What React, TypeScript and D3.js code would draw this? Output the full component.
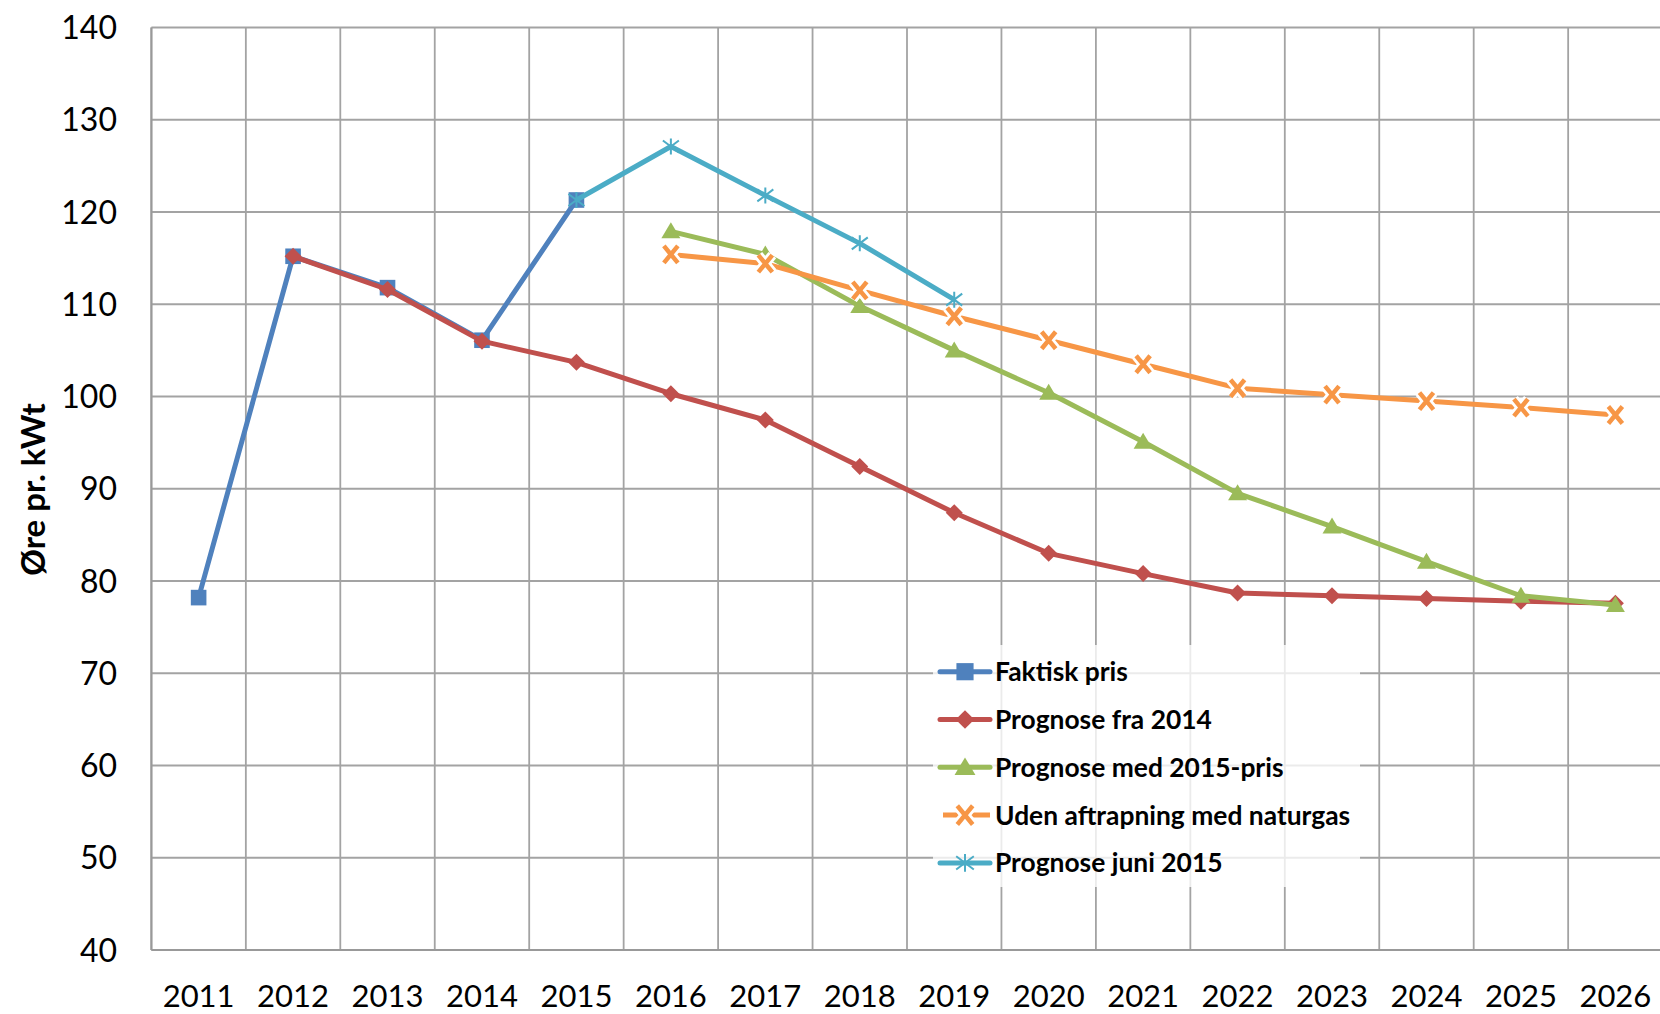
import React from "react";
import * as d3 from "d3";

const years = ["2011","2012","2013","2014","2015","2016","2017","2018","2019","2020","2021","2022","2023","2024","2025","2026"];
const yTicks = [40, 50, 60, 70, 80, 90, 100, 110, 120, 130, 140];

const faktiskPris = [78.2, 115.2, 111.8, 106.1, 121.3, null, null, null, null, null, null, null, null, null, null, null];
const prognoseFra2014 = [null, 115.2, 111.6, 106.0, 103.7, 100.3, 97.45, 92.4, 87.4, 83.0, 80.8, 78.7, 78.4, 78.1, 77.8, 77.6];
const prognoseMed2015Pris = [null, null, null, null, null, 117.9, 115.4, 109.8, 105.0, 100.4, 95.1, 89.5, 85.9, 82.1, 78.4, 77.4];
const udenAftrapning = [null, null, null, null, null, 115.4, 114.4, 111.5, 108.7, 106.1, 103.5, 100.9, 100.2, 99.5, 98.8, 98.0];
const prognoseJuni2015 = [null, null, null, null, 121.3, 127.1, 121.8, 116.6, 110.5, null, null, null, null, null, null, null];

const seriesNames = ["Faktisk pris", "Prognose fra 2014", "Prognose med 2015-pris", "Uden aftrapning med naturgas", "Prognose juni 2015"];
const seriesColors = ["#4F81BD", "#C0504D", "#9BBB59", "#F79646", "#4BACC6"];
const seriesMarkers = ["square", "diamond", "triangle", "x", "star"];
const seriesData = [faktiskPris, prognoseFra2014, prognoseMed2015Pris, udenAftrapning, prognoseJuni2015];

const W = 1660, H = 1014;
const plotLeft = 151.4, band = 94.45, plotTop = 27.5, plotBottom = 950;
const FONT = "Lato, 'Open Sans', 'Noto Sans', sans-serif";

function Marker({ kind, x, y, color, big = false }: { kind: string; x: number; y: number; color: string; big?: boolean }) {
  const s = big ? 1.1 : 1;
  if (kind === "square") {
    const h = 7.8 * s;
    return <rect x={x - h} y={y - h} width={2 * h} height={2 * h} fill={color} />;
  }
  if (kind === "diamond") {
    const h = 8.5 * s;
    return <path d={`M${x},${y - h}L${x + h},${y}L${x},${y + h}L${x - h},${y}Z`} fill={color} />;
  }
  if (kind === "triangle") {
    const w = 9.5 * s, t = 9 * s, b = 7 * s;
    return <path d={`M${x},${y - t}L${x + w},${y + b}L${x - w},${y + b}Z`} fill={color} />;
  }
  if (kind === "x") {
    const a = 7 * s, b = 8.5 * s;
    const d = `M${x - a},${y - b}L${x + a},${y + b}M${x - a},${y + b}L${x + a},${y - b}`;
    return (
      <g>
        <path d={d} stroke="#fff" strokeWidth={10} strokeLinecap="butt" fill="none" />
        <path d={d} stroke={color} strokeWidth={4.5} strokeLinecap="butt" fill="none" />
      </g>
    );
  }
  // star / asterisk
  const a = 8 * s, b = 6 * s;
  const d = `M${x},${y - a}L${x},${y + a}M${x - a},${y - b}L${x + a},${y + b}M${x - a},${y + b}L${x + a},${y - b}`;
  return <path d={d} stroke={color} strokeWidth={2} fill="none" />;
}

export default function App() {
  const x = d3.scaleBand<string>().domain(years).range([plotLeft, plotLeft + band * years.length]).padding(0);
  const y = d3.scaleLinear().domain([40, 140]).range([plotBottom, plotTop]);
  const cx = (i: number) => (x(years[i]) as number) + x.bandwidth() / 2;

  const line = d3
    .line<number | null>()
    .defined((d) => d !== null)
    .x((_, i) => cx(i))
    .y((d) => y(d as number));

  const gridColor = "#A3A3A3";
  const boundaries = years.map((yr) => x(yr) as number).concat([plotLeft + band * years.length]);

  const legendX = 940, legendY0 = 671.7, legendStep = 47.8;

  return (
    <svg width={W} height={H} style={{ position: "absolute", left: 0, top: 0, background: "#fff" }} fontFamily={FONT}>
      <rect x={0} y={0} width={W} height={H} fill="#fff" />
      {/* horizontal gridlines */}
      {yTicks.map((t) => (
        <line key={"h" + t} x1={plotLeft} x2={W} y1={y(t)} y2={y(t)} stroke={gridColor} strokeWidth={1.8} />
      ))}
      {/* vertical gridlines */}
      {boundaries.map((bx, i) => (
        <line key={"v" + i} x1={bx} x2={bx} y1={plotTop} y2={plotBottom} stroke={gridColor} strokeWidth={1.8} />
      ))}
      {/* axes */}
      <line x1={plotLeft} x2={plotLeft} y1={plotTop} y2={plotBottom} stroke="#999" strokeWidth={2} />
      <line x1={plotLeft} x2={W} y1={plotBottom} y2={plotBottom} stroke="#999" strokeWidth={2} />

      {/* y tick labels */}
      {yTicks.map((t) => (
        <text key={"yl" + t} x={117} y={y(t)} dy="0.36em" textAnchor="end" fontSize={32} fill="#000">
          {t}
        </text>
      ))}
      {/* x tick labels */}
      {years.map((yr, i) => (
        <text key={"xl" + yr} x={cx(i)} y={1006.5} textAnchor="middle" fontSize={31} fill="#000">
          {yr}
        </text>
      ))}
      {/* y axis title */}
      <text transform={`translate(45,489.5) rotate(-90)`} textAnchor="middle" fontSize={33} fontWeight="bold" fill="#000">
        Øre pr. kWt
      </text>

      {/* legend background */}
      <rect x={933} y={645} width={427} height={242} fill="#fff" fillOpacity={0.78} />

      {/* series lines and markers */}
      {seriesData.map((data, si) => (
        <g key={"s" + si}>
          <path d={line(data) || ""} fill="none" stroke={seriesColors[si]} strokeWidth={5} strokeLinejoin="round" />
          {data.map((v, i) =>
            v === null ? null : <Marker key={i} kind={seriesMarkers[si]} x={cx(i)} y={y(v)} color={seriesColors[si]} />
          )}
        </g>
      ))}

      {/* legend entries */}
      {seriesNames.map((name, si) => {
        const ly = legendY0 + si * legendStep;
        const color = seriesColors[si];
        return (
          <g key={"lg" + si}>
            {seriesMarkers[si] === "x" ? (
              <line x1={943} x2={990} y1={ly} y2={ly} stroke={color} strokeWidth={5} />
            ) : (
              <line x1={legendX} x2={990} y1={ly} y2={ly} stroke={color} strokeWidth={5} strokeLinecap="round" />
            )}
            <Marker kind={seriesMarkers[si]} x={965} y={ly} color={color} big />
            <text x={995} y={ly} dy="0.36em" fontSize={26.4} fontWeight="bold" fill="#000">
              {name}
            </text>
          </g>
        );
      })}
    </svg>
  );
}
